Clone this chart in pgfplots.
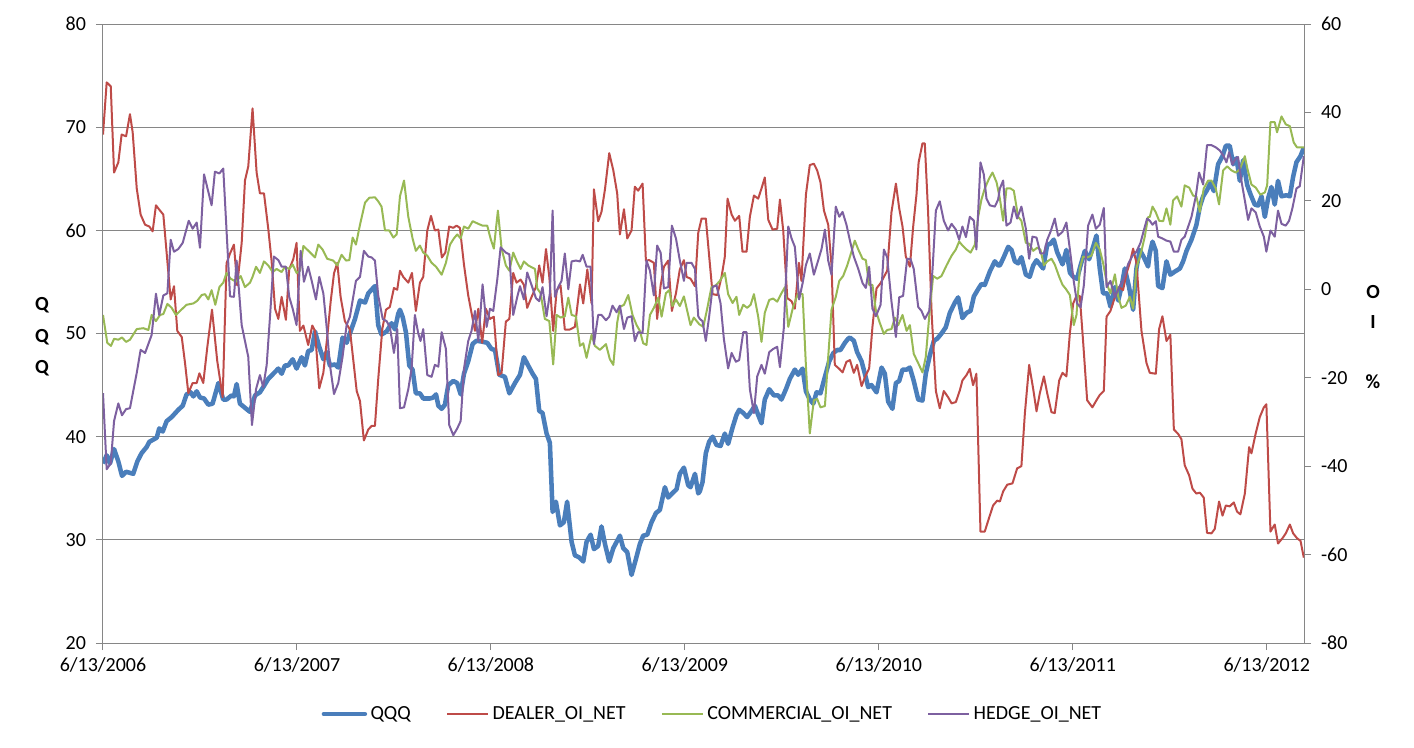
\documentclass[border=0pt]{standalone}
\usepackage{fontspec}
\setmainfont{Carlito}
\usepackage{pgfplots}
\usepackage{pgfplotstable}
\pgfplotsset{compat=1.18}
\definecolor{gridgray}{HTML}{868686}
\definecolor{qqqblue}{HTML}{4A7EBB}
\definecolor{dealerred}{HTML}{BE4B48}
\definecolor{commgreen}{HTML}{98B954}
\definecolor{hedgepurple}{HTML}{7D60A0}

\pgfplotstableread{
x y
0.000 37.4
0.019 38.2
0.036 37.4
0.057 38.8
0.079 37.6
0.098 36.2
0.119 36.6
0.156 36.4
0.177 37.6
0.199 38.4
0.225 39.0
0.239 39.5
0.277 39.9
0.290 40.8
0.308 40.5
0.328 41.5
0.354 41.9
0.388 42.6
0.411 43.0
0.431 44.1
0.452 44.3
0.466 43.9
0.483 44.4
0.500 43.8
0.521 43.7
0.543 43.1
0.565 43.2
0.595 45.2
0.620 43.6
0.637 43.6
0.663 44.0
0.675 43.9
0.689 45.1
0.706 43.2
0.732 42.8
0.758 42.4
0.784 44.0
0.809 44.3
0.826 44.8
0.852 45.6
0.878 46.1
0.904 46.6
0.921 46.1
0.938 46.9
0.955 46.9
0.978 47.5
0.998 46.6
1.024 47.7
1.041 46.9
1.058 48.3
1.076 48.4
1.093 50.2
1.115 48.7
1.136 47.5
1.153 48.2
1.170 46.9
1.196 47.0
1.213 46.7
1.235 49.6
1.256 49.1
1.273 50.0
1.299 51.4
1.325 53.2
1.351 53.0
1.368 53.9
1.402 54.6
1.419 50.8
1.436 49.9
1.462 50.2
1.488 51.0
1.505 50.4
1.522 51.9
1.531 52.3
1.545 51.6
1.562 50.1
1.579 46.9
1.596 46.5
1.613 44.2
1.634 44.2
1.651 43.7
1.686 43.7
1.703 43.8
1.717 44.1
1.729 43.0
1.746 42.7
1.763 43.1
1.780 45.0
1.806 45.4
1.826 45.2
1.844 44.1
1.861 46.1
1.883 47.3
1.906 49.0
1.926 49.3
1.957 49.2
1.981 49.1
2.003 48.5
2.021 48.4
2.043 46.0
2.072 45.8
2.095 44.2
2.124 45.2
2.150 46.0
2.170 47.7
2.192 46.9
2.215 46.1
2.232 45.6
2.249 42.5
2.266 42.3
2.287 40.3
2.304 39.4
2.318 32.7
2.335 33.7
2.356 31.4
2.376 31.7
2.393 33.7
2.416 29.8
2.433 28.5
2.455 28.3
2.476 27.9
2.493 29.8
2.514 30.5
2.531 29.1
2.553 29.4
2.570 31.3
2.588 29.6
2.610 27.9
2.631 29.2
2.648 29.8
2.665 30.4
2.682 29.2
2.703 28.8
2.725 26.6
2.747 28.1
2.768 29.6
2.785 30.4
2.806 30.5
2.828 31.7
2.851 32.6
2.871 32.9
2.897 35.1
2.914 34.1
2.940 34.6
2.957 34.9
2.974 36.4
2.995 37.0
3.017 35.3
3.029 35.1
3.052 36.4
3.069 34.5
3.077 34.7
3.091 35.6
3.108 38.4
3.125 39.5
3.143 40.0
3.163 39.2
3.184 39.1
3.206 40.3
3.223 39.3
3.246 40.9
3.266 42.1
3.280 42.6
3.301 42.3
3.321 41.9
3.344 42.5
3.361 43.0
3.378 42.1
3.395 41.3
3.412 43.6
3.435 44.6
3.459 44.0
3.481 44.0
3.498 43.6
3.521 44.6
3.541 45.6
3.567 46.5
3.584 46.0
3.607 46.6
3.624 44.4
3.644 43.6
3.662 43.2
3.679 44.3
3.699 44.2
3.722 45.8
3.744 47.3
3.765 48.1
3.785 48.4
3.802 48.4
3.825 49.1
3.842 49.5
3.851 49.6
3.871 49.3
3.888 48.2
3.911 47.3
3.928 46.1
3.945 44.8
3.962 45.0
3.988 44.3
4.014 46.7
4.031 46.1
4.048 43.4
4.070 42.7
4.088 45.2
4.105 45.4
4.122 46.5
4.143 46.5
4.160 46.7
4.180 45.4
4.203 43.6
4.225 43.5
4.242 46.1
4.263 47.9
4.284 49.3
4.301 49.5
4.323 50.0
4.345 50.6
4.366 52.0
4.392 53.0
4.409 53.5
4.431 51.5
4.452 52.0
4.473 52.2
4.490 53.6
4.512 54.3
4.529 54.8
4.546 54.7
4.572 56.0
4.598 57.0
4.615 56.6
4.624 56.6
4.644 57.4
4.667 58.4
4.684 58.1
4.701 57.0
4.718 56.8
4.735 57.4
4.758 55.7
4.778 55.5
4.796 56.6
4.813 57.1
4.830 56.7
4.847 56.3
4.868 58.6
4.885 58.7
4.902 59.1
4.919 57.9
4.947 56.7
4.967 58.1
4.985 55.9
5.002 55.5
5.022 55.3
5.040 56.6
5.062 58.0
5.084 57.2
5.105 58.4
5.122 59.5
5.139 56.3
5.156 53.9
5.177 53.9
5.194 52.6
5.217 54.5
5.234 53.2
5.251 54.5
5.268 56.3
5.290 54.5
5.311 52.3
5.328 56.3
5.345 58.1
5.366 57.4
5.388 56.5
5.397 57.8
5.411 58.9
5.428 58.0
5.440 54.6
5.462 54.4
5.483 57.0
5.503 55.7
5.526 56.0
5.552 56.3
5.569 57.0
5.586 58.0
5.612 59.1
5.637 60.5
5.655 62.3
5.672 63.3
5.692 63.9
5.710 64.6
5.727 63.8
5.749 66.4
5.772 67.2
5.789 68.2
5.809 68.2
5.827 66.4
5.844 67.0
5.861 64.8
5.878 66.8
5.899 64.4
5.916 63.5
5.938 62.5
5.955 62.4
5.973 63.3
5.990 61.3
6.007 63.1
6.024 64.2
6.041 62.5
6.058 64.8
6.076 63.3
6.101 63.4
6.119 63.3
6.136 65.2
6.153 66.6
6.174 67.2
6.191 68.0
}\qqqtab

\pgfplotstableread{
x y
0.000 35.0
0.019 46.8
0.040 45.9
0.057 26.4
0.079 28.7
0.096 35.0
0.119 34.6
0.139 39.6
0.153 35.5
0.174 22.8
0.194 16.9
0.217 14.6
0.239 14.2
0.256 13.1
0.273 19.0
0.294 17.8
0.311 16.9
0.328 8.3
0.349 -2.3
0.366 0.7
0.383 -9.4
0.406 -10.8
0.423 -16.7
0.440 -23.5
0.462 -21.2
0.483 -21.2
0.497 -19.0
0.517 -21.2
0.538 -13.0
0.562 -4.6
0.589 -16.2
0.617 -24.4
0.637 5.9
0.655 8.1
0.675 10.1
0.692 0.9
0.715 10.5
0.732 24.6
0.749 27.8
0.771 40.9
0.792 26.4
0.809 21.7
0.830 21.7
0.852 13.7
0.869 6.5
0.887 -4.4
0.904 -6.7
0.921 -1.7
0.943 -6.9
0.960 4.5
0.981 6.8
0.998 10.5
1.015 -9.4
1.033 -8.2
1.058 -12.6
1.079 -8.2
1.093 -9.4
1.115 -22.4
1.136 -18.9
1.156 -10.8
1.174 -2.7
1.191 3.6
1.208 6.0
1.225 -1.7
1.247 -7.2
1.273 -9.1
1.308 -23.0
1.325 -25.3
1.345 -34.2
1.368 -31.7
1.385 -30.9
1.402 -30.9
1.419 -20.3
1.440 -9.0
1.459 -4.6
1.479 -4.0
1.500 0.3
1.517 -0.1
1.531 4.2
1.548 2.8
1.574 1.5
1.593 3.7
1.613 -4.9
1.634 1.5
1.651 2.8
1.672 13.3
1.691 16.6
1.711 13.3
1.729 13.5
1.747 7.2
1.765 8.3
1.785 14.2
1.806 13.9
1.823 14.4
1.840 13.9
1.861 5.6
1.883 -1.4
1.906 -6.7
1.918 -9.4
1.935 -4.4
1.955 -12.1
1.974 -4.4
1.995 -6.7
2.015 -6.2
2.038 -19.4
2.055 -18.9
2.077 -7.3
2.095 -6.7
2.115 3.7
2.132 1.5
2.153 2.2
2.170 1.0
2.187 -4.2
2.210 -1.7
2.232 0.5
2.249 5.4
2.266 1.5
2.284 9.1
2.301 2.8
2.321 -9.4
2.339 -0.2
2.359 0.9
2.381 -9.1
2.407 -9.1
2.433 -8.5
2.459 1.1
2.476 -3.2
2.497 4.5
2.519 -3.2
2.531 22.6
2.553 15.4
2.570 17.5
2.588 22.6
2.610 30.8
2.631 26.9
2.651 21.7
2.665 12.4
2.686 18.1
2.703 11.5
2.725 13.3
2.742 23.2
2.759 22.3
2.782 23.9
2.799 6.5
2.816 6.6
2.840 6.0
2.857 -6.7
2.875 0.9
2.892 5.1
2.914 6.5
2.933 -4.9
2.954 -0.9
2.974 4.5
2.995 6.6
3.009 2.8
3.029 2.4
3.052 0.7
3.069 12.8
3.086 16.0
3.108 16.0
3.125 7.6
3.143 -1.1
3.167 -1.3
3.189 2.8
3.206 7.4
3.220 20.5
3.241 16.9
3.258 15.5
3.280 16.6
3.297 8.5
3.318 8.5
3.335 16.4
3.356 21.2
3.378 20.5
3.395 22.8
3.412 25.3
3.430 15.7
3.452 13.5
3.476 13.7
3.490 20.3
3.507 13.3
3.528 -2.0
3.550 -2.7
3.567 -4.4
3.588 6.0
3.601 1.9
3.624 21.4
3.644 28.1
3.665 28.4
3.682 26.9
3.699 24.2
3.717 17.8
3.739 14.6
3.756 5.4
3.773 -17.1
3.796 -18.0
3.813 -18.8
3.833 -16.4
3.851 -16.0
3.871 -18.9
3.888 -17.1
3.911 -21.9
3.928 -19.9
3.950 -17.9
3.967 -8.5
3.988 0.2
4.009 1.4
4.026 2.8
4.043 4.2
4.065 17.4
4.088 23.9
4.105 18.3
4.122 14.2
4.139 7.4
4.160 5.1
4.177 14.2
4.194 21.4
4.205 28.7
4.225 33.0
4.237 33.0
4.254 17.4
4.272 -5.3
4.294 -23.0
4.314 -26.9
4.335 -23.0
4.357 -24.4
4.375 -25.8
4.397 -25.5
4.418 -22.8
4.431 -20.6
4.452 -19.4
4.469 -18.0
4.486 -21.7
4.503 -19.1
4.524 -54.8
4.546 -54.8
4.569 -51.6
4.589 -48.9
4.610 -47.8
4.624 -48.0
4.641 -45.7
4.662 -44.2
4.689 -43.9
4.713 -40.5
4.735 -40.0
4.753 -28.0
4.775 -17.1
4.796 -22.6
4.813 -27.6
4.830 -23.5
4.851 -19.7
4.868 -23.5
4.890 -27.8
4.907 -28.0
4.930 -20.6
4.947 -18.9
4.967 -19.7
4.985 -9.9
5.002 -3.2
5.019 -1.5
5.036 -1.5
5.053 -11.7
5.074 -25.1
5.101 -26.7
5.122 -25.1
5.139 -23.9
5.160 -23.0
5.174 -6.2
5.194 -4.9
5.217 -1.8
5.239 0.5
5.259 -0.2
5.277 3.6
5.294 6.0
5.311 9.2
5.328 6.0
5.354 -9.4
5.380 -16.7
5.397 -18.9
5.428 -19.1
5.445 -9.0
5.462 -6.1
5.483 -11.7
5.503 -10.3
5.521 -31.7
5.543 -32.7
5.560 -33.9
5.577 -39.8
5.600 -42.1
5.617 -45.1
5.637 -46.2
5.655 -46.0
5.675 -47.1
5.692 -55.1
5.715 -55.2
5.732 -54.2
5.754 -48.0
5.772 -51.2
5.789 -48.9
5.809 -49.1
5.830 -48.2
5.847 -50.3
5.864 -50.9
5.887 -46.2
5.909 -35.7
5.921 -37.1
5.943 -32.6
5.964 -28.9
5.985 -26.7
5.998 -26.0
6.019 -54.8
6.041 -53.2
6.058 -57.5
6.081 -56.3
6.098 -55.2
6.119 -53.2
6.136 -55.2
6.156 -56.3
6.174 -56.9
6.191 -60.7
}\dealertab

\pgfplotstableread{
x y
0.000 -5.8
0.022 -12.1
0.041 -12.8
0.057 -11.2
0.079 -11.4
0.098 -10.9
0.119 -11.9
0.139 -11.4
0.174 -9.0
0.208 -8.8
0.234 -9.2
0.251 -5.8
0.273 -7.2
0.294 -5.8
0.311 -5.6
0.332 -3.3
0.354 -4.2
0.376 -5.8
0.397 -4.9
0.431 -3.5
0.466 -3.2
0.486 -2.6
0.509 -1.3
0.526 -1.1
0.543 -2.3
0.560 -0.2
0.579 -3.5
0.600 0.5
0.620 1.5
0.637 3.7
0.658 2.4
0.686 1.7
0.710 3.0
0.732 0.5
0.758 1.5
0.771 2.8
0.789 5.1
0.809 3.7
0.830 6.3
0.852 5.4
0.875 3.9
0.895 4.6
0.921 3.9
0.938 5.1
0.960 4.6
0.978 5.6
0.998 3.7
1.015 4.2
1.033 9.8
1.064 8.5
1.093 7.2
1.110 10.1
1.132 9.0
1.156 6.9
1.187 6.5
1.208 5.4
1.230 7.8
1.253 6.5
1.270 6.6
1.287 11.7
1.304 10.1
1.325 14.6
1.351 19.6
1.373 20.7
1.402 20.8
1.419 19.9
1.436 18.7
1.454 13.3
1.476 13.3
1.497 11.7
1.514 12.4
1.531 21.0
1.552 24.6
1.574 16.4
1.596 11.5
1.613 8.7
1.634 9.9
1.651 8.3
1.672 7.6
1.694 6.0
1.717 5.1
1.746 3.3
1.768 6.0
1.789 10.1
1.809 11.5
1.826 12.4
1.844 11.5
1.861 14.2
1.883 13.7
1.906 15.4
1.935 14.8
1.957 14.4
1.981 14.4
1.998 11.5
2.015 9.2
2.036 17.8
2.055 9.2
2.077 5.4
2.095 4.2
2.115 8.3
2.132 6.5
2.153 4.6
2.170 6.3
2.192 5.4
2.227 4.6
2.239 0.2
2.256 -0.9
2.278 -6.7
2.301 -7.2
2.321 -17.0
2.339 -5.8
2.359 -6.4
2.381 -6.1
2.399 -1.9
2.416 -5.8
2.438 -6.1
2.459 -12.8
2.476 -12.2
2.493 -15.5
2.519 -10.3
2.536 -12.8
2.562 -13.7
2.593 -12.4
2.613 -15.8
2.631 -17.1
2.651 -7.6
2.665 -4.0
2.686 -3.5
2.708 -1.3
2.730 -5.8
2.751 -8.1
2.768 -9.4
2.785 -12.2
2.802 -12.6
2.820 -5.8
2.840 -4.2
2.863 -1.9
2.880 -6.2
2.902 -0.9
2.919 -0.2
2.936 -3.8
2.954 -2.3
2.974 -3.8
2.995 -1.6
3.029 -8.1
3.046 -6.4
3.074 -7.9
3.095 -8.5
3.115 -4.4
3.137 0.5
3.160 0.9
3.180 1.9
3.206 3.7
3.223 -1.1
3.246 -3.1
3.266 -1.7
3.280 -5.8
3.301 -3.5
3.321 -4.2
3.339 -3.5
3.356 -1.1
3.378 -6.2
3.395 -11.9
3.412 -5.3
3.435 -2.4
3.455 -2.1
3.476 -2.8
3.498 -0.9
3.516 0.5
3.533 -8.5
3.558 -4.0
3.584 -0.9
3.607 -1.1
3.624 -17.3
3.644 -32.6
3.665 -25.1
3.682 -24.8
3.699 -26.7
3.722 -26.4
3.739 -15.3
3.756 -4.6
3.778 -1.7
3.796 1.9
3.816 3.0
3.837 5.4
3.854 7.8
3.876 11.0
3.894 9.0
3.916 6.9
3.933 6.6
3.950 1.0
3.967 1.0
3.985 -4.9
4.005 -7.6
4.026 -10.1
4.043 -9.2
4.065 -9.0
4.083 -6.4
4.100 -8.1
4.122 -5.8
4.143 -9.4
4.160 -8.1
4.180 -14.6
4.203 -16.7
4.225 -18.8
4.242 -15.3
4.263 -4.4
4.280 3.0
4.301 2.4
4.323 3.0
4.349 5.4
4.375 7.6
4.397 9.0
4.414 10.8
4.431 9.9
4.452 9.0
4.473 8.3
4.495 10.1
4.512 16.4
4.529 20.3
4.546 22.8
4.569 25.1
4.586 26.4
4.607 24.2
4.624 20.5
4.641 15.5
4.658 22.8
4.679 22.8
4.696 22.3
4.718 16.4
4.735 15.5
4.758 10.5
4.775 10.3
4.796 8.7
4.816 9.4
4.833 9.0
4.851 5.4
4.868 6.3
4.890 6.9
4.907 5.6
4.930 2.8
4.947 1.0
4.964 0.1
4.985 -1.3
5.005 -8.1
5.019 -5.8
5.036 4.6
5.053 7.4
5.074 7.2
5.096 7.6
5.119 10.5
5.139 9.0
5.156 6.0
5.177 1.0
5.194 -0.9
5.217 3.4
5.234 -1.6
5.251 -4.2
5.273 -3.7
5.294 -1.7
5.311 -4.4
5.328 4.8
5.354 8.7
5.371 11.9
5.388 16.3
5.397 16.4
5.411 18.7
5.428 17.4
5.445 15.5
5.466 15.4
5.483 18.3
5.503 14.6
5.517 20.1
5.538 21.0
5.560 18.7
5.577 23.5
5.600 23.0
5.620 21.2
5.637 21.0
5.655 17.5
5.675 22.8
5.698 24.6
5.715 24.6
5.737 22.8
5.754 19.2
5.775 26.9
5.796 27.8
5.818 26.9
5.840 26.4
5.861 27.1
5.887 30.1
5.899 27.5
5.921 23.7
5.943 23.0
5.967 21.4
5.990 21.9
6.002 23.5
6.019 37.8
6.041 37.8
6.053 35.5
6.076 39.1
6.098 37.3
6.119 36.9
6.139 33.2
6.156 32.1
6.191 32.1
}\commtab

\pgfplotstableread{
x y
0.000 -23.5
0.019 -40.7
0.040 -39.4
0.057 -29.8
0.079 -25.8
0.098 -28.5
0.119 -27.1
0.139 -26.9
0.174 -18.9
0.194 -13.7
0.217 -14.4
0.251 -10.3
0.273 -1.0
0.290 -5.8
0.311 -1.4
0.332 -0.9
0.349 11.2
0.366 8.5
0.388 9.1
0.411 10.5
0.442 15.5
0.462 13.7
0.483 15.1
0.500 9.4
0.521 26.0
0.560 19.0
0.577 26.6
0.600 26.2
0.620 27.3
0.655 -1.6
0.675 -1.7
0.689 6.5
0.715 -8.1
0.749 -15.3
0.768 -30.7
0.789 -22.6
0.809 -19.4
0.826 -22.1
0.844 -17.1
0.861 -6.2
0.881 7.4
0.904 6.6
0.921 5.1
0.943 5.1
0.960 -1.7
0.978 -4.4
0.998 -8.1
1.019 8.7
1.036 1.7
1.058 5.1
1.076 1.9
1.098 -2.3
1.115 2.8
1.136 -0.9
1.153 -8.5
1.170 -17.1
1.191 -23.7
1.213 -21.2
1.235 -15.3
1.256 -8.1
1.273 -6.2
1.304 1.9
1.325 2.8
1.345 8.7
1.368 7.4
1.385 7.2
1.402 6.5
1.419 -1.4
1.442 -6.7
1.462 -7.2
1.479 -8.5
1.500 -14.4
1.517 -9.0
1.531 -26.9
1.552 -26.7
1.574 -22.6
1.591 -18.0
1.608 -5.8
1.625 -9.9
1.637 -11.7
1.651 -9.0
1.672 -19.4
1.694 -19.8
1.711 -17.1
1.729 -17.5
1.746 -9.7
1.768 -13.5
1.785 -30.7
1.806 -33.0
1.826 -31.5
1.844 -29.8
1.861 -18.0
1.883 -11.7
1.900 -9.4
1.918 -4.9
1.935 -11.7
1.957 1.1
1.978 -8.5
1.995 -4.4
2.012 -4.9
2.033 2.3
2.050 9.5
2.077 8.3
2.095 7.9
2.115 -5.8
2.136 -1.7
2.150 0.7
2.170 -2.3
2.187 3.8
2.210 0.9
2.232 -2.0
2.249 -2.7
2.266 0.5
2.287 -6.1
2.304 -0.9
2.318 17.8
2.330 -1.7
2.347 0.5
2.364 1.9
2.381 8.1
2.399 0.0
2.416 6.3
2.438 6.5
2.459 6.3
2.473 7.8
2.493 5.1
2.514 5.1
2.531 -12.4
2.553 -5.8
2.570 -5.8
2.593 -7.0
2.610 -6.2
2.627 -3.7
2.648 -5.2
2.665 -3.7
2.686 -9.0
2.703 -6.4
2.725 -6.1
2.742 -11.7
2.759 -9.7
2.782 -9.9
2.802 6.5
2.820 4.2
2.840 -1.4
2.857 9.9
2.875 8.3
2.892 0.2
2.914 0.5
2.933 14.4
2.954 11.5
2.974 6.5
2.995 1.9
3.009 6.0
3.034 6.0
3.052 4.6
3.069 -6.1
3.077 -6.7
3.091 -7.2
3.108 -11.7
3.125 -6.2
3.143 0.5
3.163 0.9
3.184 -3.2
3.201 -11.2
3.223 -17.9
3.241 -14.4
3.263 -16.4
3.280 -16.0
3.301 -9.7
3.318 -9.7
3.335 -22.6
3.356 -28.0
3.373 -19.7
3.395 -17.1
3.412 -19.1
3.435 -14.2
3.455 -13.5
3.476 -13.0
3.490 -17.6
3.510 -8.8
3.533 14.2
3.550 11.5
3.567 9.6
3.589 -2.3
3.607 1.4
3.624 5.5
3.644 8.1
3.665 3.3
3.687 6.5
3.705 9.2
3.722 13.5
3.739 6.5
3.756 3.3
3.778 18.7
3.796 16.4
3.813 17.5
3.833 14.6
3.851 11.0
3.871 7.4
3.894 4.6
3.916 1.4
3.933 0.3
3.950 5.1
3.967 -4.4
3.985 -6.1
4.009 -3.5
4.026 9.0
4.043 7.2
4.065 -2.7
4.088 -10.8
4.105 -1.8
4.125 -1.5
4.146 6.9
4.163 6.9
4.180 4.6
4.203 -4.0
4.220 -4.9
4.237 -6.7
4.260 -4.9
4.277 4.6
4.294 17.8
4.314 19.9
4.335 15.5
4.357 13.3
4.375 14.8
4.397 13.5
4.414 11.2
4.431 14.2
4.449 11.8
4.469 16.4
4.490 15.5
4.503 9.0
4.524 28.7
4.541 26.0
4.555 20.5
4.572 19.0
4.598 18.7
4.615 20.3
4.624 22.8
4.641 24.6
4.658 14.4
4.679 15.1
4.696 18.7
4.713 16.0
4.735 18.7
4.758 13.7
4.775 6.9
4.792 11.9
4.813 11.7
4.833 8.1
4.851 8.1
4.868 11.2
4.885 13.0
4.907 16.0
4.924 12.1
4.947 13.0
4.967 15.1
4.985 9.0
5.005 1.8
5.022 -3.2
5.040 -4.1
5.057 0.9
5.079 14.4
5.101 16.9
5.119 13.7
5.139 14.6
5.160 18.4
5.174 0.5
5.194 1.9
5.217 -1.8
5.239 0.5
5.263 2.3
5.285 5.7
5.308 7.6
5.328 8.5
5.349 10.5
5.366 13.3
5.383 16.0
5.397 15.5
5.411 14.6
5.428 15.4
5.440 11.9
5.462 11.5
5.483 11.0
5.503 10.8
5.521 8.5
5.543 8.5
5.560 11.2
5.577 11.9
5.595 14.2
5.612 16.4
5.634 21.0
5.651 26.4
5.672 23.7
5.692 32.6
5.715 32.6
5.737 32.1
5.758 31.4
5.778 30.1
5.792 28.7
5.806 31.0
5.823 28.2
5.840 29.6
5.852 29.9
5.869 24.6
5.887 20.1
5.904 15.7
5.921 18.3
5.943 17.4
5.964 14.2
5.985 11.9
5.998 8.5
6.019 13.3
6.041 11.9
6.058 17.8
6.076 14.8
6.098 14.4
6.115 15.5
6.132 18.3
6.153 22.8
6.170 23.3
6.191 30.1
}\hedgetab

\begin{document}
\begin{tikzpicture}
\useasboundingbox (-77.25pt,-78pt) rectangle (983.25pt,482.25pt);
\begin{axis}[
  scale only axis, width=900.75pt, height=464.25pt,
  xmin=0, xmax=6.192, ymin=20, ymax=80,
  axis line style={draw=gridgray, line width=0.75pt},
  xtick={0,1,2,3,4,5,6},
  xticklabels={6/13/2006,6/13/2007,6/13/2008,6/13/2009,6/13/2010,6/13/2011,6/13/2012},
  ytick={20,30,40,50,60,70,80},
  yticklabels={20,30,40,50,60,70,80},
  xtick pos=bottom, ytick pos=left,
  tick align=outside,
  major tick length=5.25pt,
  major tick style={draw=gridgray, line width=0.75pt},
  ymajorgrids,
  major grid style={draw=gridgray, line width=0.75pt},
  tick label style={font=\fontsize{15}{18}\selectfont, text=black},
  yticklabel style={xshift=-4pt},
  xticklabel style={yshift=-2pt},
]
\addplot[qqqblue, line width=3.4pt, line join=round, no markers] table[x=x,y=y] {\qqqtab};
\end{axis}
\begin{axis}[
  scale only axis, width=900.75pt, height=464.25pt,
  xmin=0, xmax=6.192, ymin=-80, ymax=60,
  axis x line=none, axis y line*=right,
  axis line style={draw=gridgray, line width=0.75pt},
  ytick={-80,-60,-40,-20,0,20,40,60},
  yticklabels={-80,-60,-40,-20,0,20,40,60},
  tick align=outside,
  major tick length=5.25pt,
  major tick style={draw=gridgray, line width=0.75pt},
  tick label style={font=\fontsize{15}{18}\selectfont, text=black},
  yticklabel style={xshift=4pt},
  legend columns=4,
  legend cell align=left,
  legend style={draw=none, fill=none, at={(axis description cs:0.508,-0.1147)}, anchor=center,
    font=\fontsize{15}{18}\selectfont, nodes={inner sep=2.5pt},
    /tikz/every even column/.append style={column sep=24pt}},
  legend image code/.code={\draw[#1] (0pt,0pt) -- (30.75pt,0pt);},
]
\addlegendimage{qqqblue, line width=3.4pt, line cap=round}
\addlegendentry{QQQ}
\addplot[dealerred, line width=1.5pt, line join=round, no markers] table[x=x,y=y] {\dealertab};
\addlegendentry{DEALER\_OI\_NET}
\addplot[commgreen, line width=1.5pt, line join=round, no markers] table[x=x,y=y] {\commtab};
\addlegendentry{COMMERCIAL\_OI\_NET}
\addplot[hedgepurple, line width=1.5pt, line join=round, no markers] table[x=x,y=y] {\hedgetab};
\addlegendentry{HEDGE\_OI\_NET}
\end{axis}
\node[font=\bfseries\fontsize{15}{23.5}\selectfont, align=center] at (-45.75pt,229.5pt) {Q\\Q\\Q};
\node[font=\bfseries\fontsize{15}{22.5}\selectfont, align=center] at (952.5pt,229.5pt) {O\\I\\\mbox{}\\\%};
\end{tikzpicture}
\end{document}
